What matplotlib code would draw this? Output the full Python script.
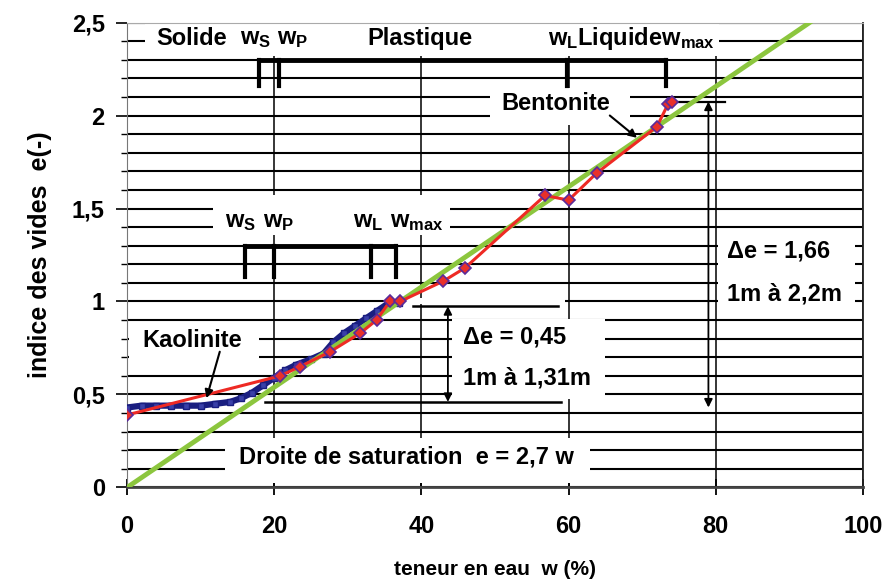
import matplotlib
matplotlib.use("Agg")
import matplotlib.pyplot as plt
import numpy as np
from matplotlib.patches import Rectangle

plt.rcParams["font.family"] = ["Liberation Sans", "DejaVu Sans"]
plt.rcParams["mathtext.fontset"] = "custom"
plt.rcParams["mathtext.rm"] = "Liberation Sans:bold"
plt.rcParams["mathtext.it"] = "Liberation Sans:bold"
plt.rcParams["mathtext.bf"] = "Liberation Sans:bold"
plt.rcParams["mathtext.default"] = "rm"

# ---- data -----------------------------------------------------------------
kao_w = [0, 2, 4, 6, 8, 10, 12, 14, 15.5, 17, 18.5, 20, 21.5, 23, 25, 26.7,
         28, 29.5, 31, 32.5, 34, 35.5, 37]
kao_e = [0.43, 0.44, 0.44, 0.44, 0.44, 0.44, 0.45, 0.46, 0.48, 0.51, 0.55,
         0.59, 0.63, 0.66, 0.69, 0.72, 0.78, 0.83, 0.87, 0.91, 0.95, 0.99, 0.99]

bent_w = [0, 20.8, 23.5, 27.6, 31.7, 33.9, 35.7, 37.1, 43.0, 45.9, 56.8,
          60.0, 63.8, 72.0, 73.5, 74.0]
bent_e = [0.39, 0.60, 0.65, 0.73, 0.83, 0.90, 1.00, 1.00, 1.11, 1.18, 1.57,
          1.545, 1.69, 1.94, 2.06, 2.07]

sat_w = [0, 93.5]
sat_e = [0, 2.52]

x_ticks = [0, 20, 40, 60, 80, 100]
y_ticks = [0, 0.5, 1, 1.5, 2, 2.5]
y_labels = ["0", "0,5", "1", "1,5", "2", "2,5"]

# ---- figure ----------------------------------------------------------------
fig = plt.figure(figsize=(8.84, 5.82), dpi=100)
ax = fig.add_axes([0.1437, 0.1624, 0.8325, 0.7989])
ax.set_xlim(0, 100)
ax.set_ylim(0, 2.5)

ax.set_xticks(x_ticks)
ax.set_xticklabels([str(v) for v in x_ticks], fontsize=17, fontweight="bold")
ax.set_yticks(y_ticks)
ax.set_yticklabels(y_labels, fontsize=17, fontweight="bold")
ax.set_yticks(np.arange(0.1, 2.5, 0.1), minor=True)
ax.tick_params(axis="x", direction="inout", length=11, width=1.3, pad=14)
ax.tick_params(axis="y", which="major", direction="out", length=8, width=1.2, pad=8)
ax.tick_params(axis="y", which="minor", direction="out", length=4, width=1.0)

ax.set_axisbelow(True)
ax.grid(True, axis="y", which="both", color="black", linewidth=1.5)
ax.grid(True, axis="x", which="major", color="black", linewidth=1.1)

ax.spines["left"].set_color("#777777")
ax.spines["top"].set_color("#aaaaaa")
ax.spines["right"].set_color("#222222")
ax.spines["bottom"].set_color("#444444")
ax.spines["bottom"].set_linewidth(2)
ax.spines["right"].set_linewidth(1.3)

ax.set_xlabel("teneur en eau  w (%)", fontsize=15, fontweight="bold", labelpad=16)
ax.set_ylabel("indice des vides  e(-)", fontsize=18, fontweight="bold", labelpad=14)

# white label areas that interrupt the grid
boxes = [
    (2.5, 2.32, 80.4 - 2.5, 2.495 - 2.32),    # top phase band
    (49.3, 1.95, 68.3 - 49.3, 0.2),            # Bentonite
    (11.7, 1.36, 43.9 - 11.7, 1.575 - 1.36),   # kaolinite limits
    (0.3, 0.64, 17.7, 0.23),                   # Kaolinite
    (44.2, 0.475, 65.0 - 44.2, 0.905 - 0.475), # delta e 0.45
    (37.5, 0.988, 59.5 - 37.5, 0.03),          # gap in 1.0 grid line
    (80.3, 0.95, 98.9 - 80.3, 0.40),           # delta e 1.66
    (13.3, 0.025, 62.9 - 13.3, 0.24),          # Droite de saturation
]
for x0, y0, w, h in boxes:
    ax.add_patch(Rectangle((x0, y0), w, h, facecolor="white", edgecolor="none", zorder=2))

# phase brackets
ax.plot([18.0, 73.2], [2.3, 2.3], color="black", lw=3.5, zorder=3, solid_capstyle="butt")
for xb in [18.0, 20.7, 59.8, 73.2]:
    ax.plot([xb, xb], [2.3, 2.16], color="black", lw=3, zorder=3)
ax.plot([16.0, 36.5], [1.3, 1.3], color="black", lw=3.5, zorder=3, solid_capstyle="butt")
for xb in [16.0, 20.0, 33.2, 36.5]:
    ax.plot([xb, xb], [1.3, 1.13], color="black", lw=3, zorder=3)

# reference lines and dimension arrows
ax.plot([38.9, 58.5], [0.975, 0.975], color="black", lw=1.8, zorder=3)
ax.plot([18.8, 59.0], [0.46, 0.46], color="black", lw=1.8, zorder=3)
ax.plot([74.7, 81.2], [2.075, 2.075], color="black", lw=1.6, zorder=3)
ax.annotate("", xy=(43.6, 0.975), xytext=(43.6, 0.46),
            arrowprops=dict(arrowstyle="<|-|>", color="black", lw=1.3,
                            mutation_scale=12, shrinkA=0, shrinkB=0), zorder=3)
ax.annotate("", xy=(79.0, 2.075), xytext=(79.0, 0.43),
            arrowprops=dict(arrowstyle="<|-|>", color="black", lw=1.3,
                            mutation_scale=12, shrinkA=0, shrinkB=0), zorder=3)

# data
ax.plot(kao_w, kao_e, color="#1a1e80", lw=4.5, marker="s", markersize=5,
        markerfacecolor="#3a40a8", markeredgecolor="#1a1e80", zorder=4)
ax.plot(sat_w, sat_e, color="#8cc63e", lw=3.5, zorder=5, solid_capstyle="butt")
ax.plot(bent_w, bent_e, color="#ee2a24", lw=2.2, marker="D", markersize=6,
        markerfacecolor="#e8302a", markeredgecolor="#5a2a9a", markeredgewidth=1.2,
        zorder=6)

# text
tk = dict(fontsize=17, fontweight="bold", zorder=7, va="center")
ax.text(8.8, 2.415, "Solide", ha="center", **tk)
ax.text(15.3, 2.415, r"w$_{S}$", ha="left", **tk)
ax.text(20.4, 2.415, r"w$_{P}$", ha="left", **tk)
ax.text(39.8, 2.415, "Plastique", ha="center", **tk)
ax.text(57.2, 2.415, r"w$_{L}$Liquidew$_{max}$", ha="left", **tk)

ax.text(13.3, 1.43, r"w$_{S}$", ha="left", **tk)
ax.text(18.5, 1.43, r"w$_{P}$", ha="left", **tk)
ax.text(30.7, 1.43, r"w$_{L}$", ha="left", **tk)
ax.text(35.7, 1.43, r"w$_{max}$", ha="left", **tk)

ax.text(8.9, 0.79, "Kaolinite", ha="center", **tk)
ax.text(58.2, 2.065, "Bentonite", ha="center", **tk)
ax.text(45.7, 0.81, "\u0394e = 0,45", ha="left", **tk)
ax.text(45.7, 0.59, "1m à 1,31m", ha="left", **tk)
ax.text(81.5, 1.27, "\u0394e = 1,66", ha="left", **tk)
ax.text(81.5, 1.04, "1m à 2,2m", ha="left", **tk)
ax.text(38.0, 0.165, "Droite de saturation  e = 2,7 w", ha="center",
        fontsize=17, fontweight="bold", zorder=7, va="center")

ax.annotate("", xy=(10.8, 0.48), xytext=(12.6, 0.73),
            arrowprops=dict(arrowstyle="-|>", color="black", lw=1.5,
                            mutation_scale=12, shrinkA=0, shrinkB=0), zorder=7)
ax.annotate("", xy=(69.3, 1.88), xytext=(65.6, 2.0),
            arrowprops=dict(arrowstyle="-|>", color="black", lw=1.5,
                            mutation_scale=12, shrinkA=0, shrinkB=0), zorder=7)

fig.savefig("out.png", dpi=100)
